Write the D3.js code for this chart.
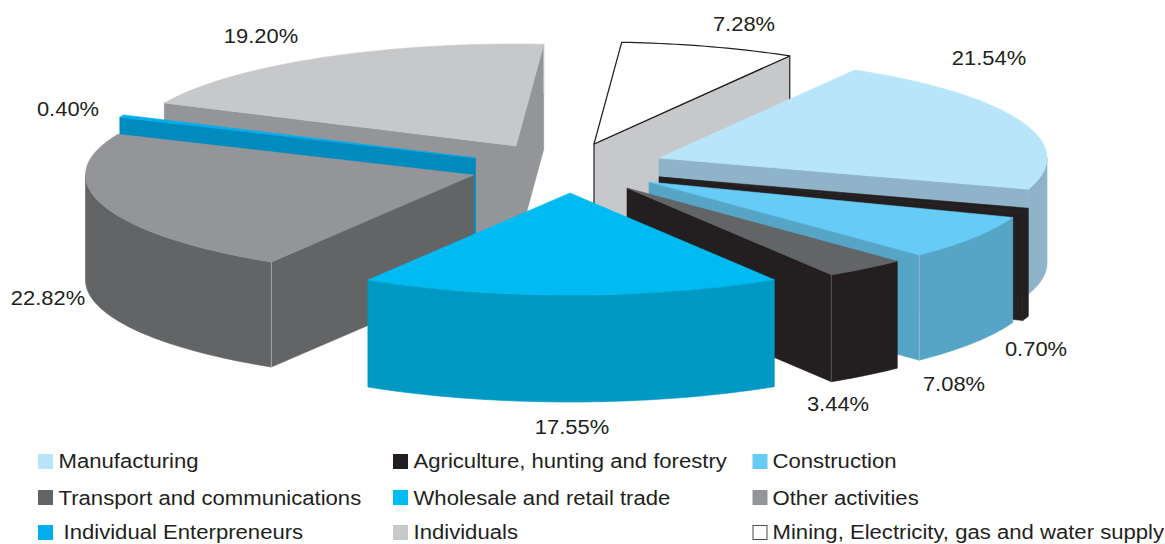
<!DOCTYPE html>
<html><head><meta charset="utf-8">
<script src="https://cdn.jsdelivr.net/npm/d3@7"></script>
<style>html,body{margin:0;padding:0;background:#fff}svg{display:block}text{font-family:"Liberation Sans",Arial,sans-serif;fill:#231f20}</style>
</head><body><svg id="c" width="1165" height="544"></svg>
<script>
const categories = ["Manufacturing","Agriculture, hunting and forestry","Construction","Transport and communications","Wholesale and retail trade","Other activities","Individual Enterpreneurs","Individuals","Mining, Electricity, gas and water supply"];
const values = [21.54,0.70,7.08,3.44,17.55,22.82,0.40,19.20,7.28];
const valueLabels = ["21.54%","0.70%","7.08%","3.44%","17.55%","22.82%","0.40%","19.20%","7.28%"];
const topColors = ["#b9e5fb","#231f20","#66cbf5","#636466","#00bbf2","#939598","#00aeef","#c7c8ca","#ffffff"];
const sideColors = ["#8fb3c8","#231f20","#56a5c6","#231f20","#0099c3","#636466","#008bbf","#939598","#c7c8ca"];
const legendColors = ["#b9e5fb","#231f20","#66cbf5","#636466","#00bbf2","#939598","#00aeef","#c7c8ca","#ffffff"];

// layout
const apexX = [659,659,649,627,570,473.5,475.5,516,594];
const apexY = [158,177,182,188,193,175,158,146,144];
const depths = [105,108,105,107,107,105,105,105,105];
const labelX = [989,1036,954,838,572,48,68,261,744];
const labelY = [65,356,391,411,434,305,116,43,31];
const legendCols = [38,393,752.5], legendRows = [454,490,525], legendBase = [468,504.7,538.5];
const legendTextDx = [20.5,20.5,20,20.5,20.5,20,25.5,20.5,20];
const paintOrder = [8,7,6,5,0,1,2,3,4];
const RX = 388, RY = 102;

const sx = d3.scaleLinear().domain([-1,1]).range([-RX,RX]);
const sy = d3.scaleLinear().domain([-1,1]).range([-RY,RY]);
const start = 30.3*Math.PI/180;
const arcs = d3.pie().sort(null).value(d=>d).startAngle(start).endAngle(start+2*Math.PI)(values);
const svg = d3.select("#c");
const line = d3.line();
const pt = (i,t)=>[apexX[i]+sx(Math.sin(t)), apexY[i]+sy(-Math.cos(t))];
const samples = (a,b)=>{const n=Math.max(2,Math.ceil((b-a)/0.02));return d3.range(n+1).map(k=>a+(b-a)*k/n);};

function poly(pts,fill,stroke,sw){
  svg.append("path").attr("d",line(pts)+"Z").attr("fill",fill)
     .attr("stroke",stroke||fill).attr("stroke-width",sw||0.6).attr("stroke-linejoin","round");
}
paintOrder.forEach(i=>{
  const a=arcs[i].startAngle,b=arcs[i].endAngle,side=sideColors[i],top=topColors[i],depth=depths[i];
  const A=[apexX[i],apexY[i]];
  const isMining=i===8; const st=isMining?"#231f20":null, w=isMining?1.2:0.6;
  if(Math.sin(a)<0){const p=pt(i,a);poly([A,p,[p[0],p[1]+depth],[A[0],A[1]+depth]],side,st,w);}
  if(Math.sin(b)>0){const p=pt(i,b);poly([A,p,[p[0],p[1]+depth],[A[0],A[1]+depth]],side,st,w);}
  // outer wall: only the front half of the ellipse can be seen
  const lo=Math.max(a,Math.PI/2), hi=Math.min(b,Math.PI*1.5);
  if(hi>lo){
    const u=samples(lo,hi).map(t=>pt(i,t));
    poly(u.concat(u.slice().reverse().map(p=>[p[0],p[1]+depth])),side);
  }
  const rim=samples(a,b).map(t=>pt(i,t));
  poly([A].concat(rim),top,st,w);
});
// hairlines on the front corners of the slabs
[[5,arcs[5].startAngle,"#b5b6b8"],[7,arcs[7].endAngle,"#c7c8ca"],[2,arcs[2].endAngle,"#9cc6da"],[3,arcs[3].endAngle,"#5a6a72"]].forEach(([i,t,c])=>{
  const p=pt(i,t);
  svg.append("line").attr("x1",p[0]).attr("y1",p[1]).attr("x2",p[0]).attr("y2",p[1]+(i===7?50:depths[i])).attr("stroke",c).attr("stroke-width",0.8);
});

valueLabels.forEach((t,i)=>svg.append("text")
  .attr("transform",`translate(${labelX[i]},${labelY[i]}) scale(1.045,1)`)
  .attr("text-anchor","middle").attr("font-size",21).text(t));

categories.forEach((c,i)=>{
  const x=legendCols[i%3], r=Math.floor(i/3), y=legendRows[r];
  if(i===8) svg.append("rect").attr("x",x+0.5).attr("y",y+0.5).attr("width",14).attr("height",14)
    .attr("fill",legendColors[i]).attr("stroke","#4d4d4f").attr("stroke-width",1);
  else svg.append("rect").attr("x",x).attr("y",y).attr("width",15).attr("height",15).attr("fill",legendColors[i]);
  svg.append("text").attr("transform",`translate(${x+legendTextDx[i]},${legendBase[r]}) scale(1.095,1)`)
    .attr("font-size",20.2).text(c);
});
</script></body></html>
